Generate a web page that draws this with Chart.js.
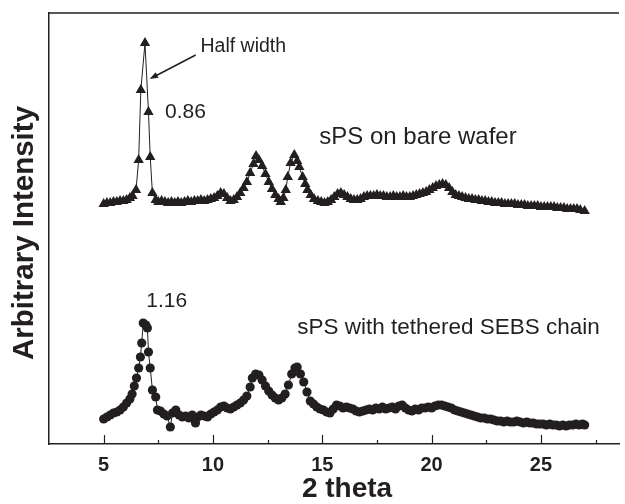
<!DOCTYPE html>
<html>
<head>
<meta charset="utf-8">
<script src="https://cdn.jsdelivr.net/npm/chart.js@4"></script>
<style>
  html, body { margin: 0; padding: 0; background: #fff; }
  #wrap { width: 625px; height: 504px; }
</style>
</head>
<body>
<div id="wrap"><canvas id="xrd"></canvas></div>
<script>
// sPS on bare wafer (triangles)
const bareX = [5.0, 5.15, 5.3, 5.45, 5.6, 5.75, 5.9, 6.05, 6.2, 6.32, 6.48, 6.6, 6.7, 6.89, 7.05, 7.13, 7.23, 7.38,
  7.5, 7.65, 7.8, 7.95, 8.1, 8.25, 8.4, 8.55, 8.7, 8.85, 9.0, 9.15, 9.3, 9.45, 9.6, 9.75, 9.9, 10.05, 10.2, 10.35,
  10.5, 10.65, 10.8, 10.95, 11.1, 11.25, 11.4, 11.55, 11.7, 11.85, 11.97, 12.1, 12.25, 12.4, 12.55, 12.7, 12.85,
  13.0, 13.1, 13.22, 13.33, 13.42, 13.55, 13.72, 13.85, 13.95, 14.1, 14.22, 14.32, 14.47, 14.62, 14.8, 14.95,
  15.1, 15.25, 15.4, 15.55, 15.7, 15.85, 16.0, 16.15, 16.3, 16.45, 16.6, 16.75, 16.9, 17.05, 17.2, 17.35, 17.5,
  17.65, 17.8, 17.95, 18.1, 18.25, 18.4, 18.55, 18.7, 18.85, 19.0, 19.15, 19.3, 19.45, 19.6, 19.75, 19.9, 20.05,
  20.2, 20.35, 20.5, 20.65, 20.8, 20.95, 21.1, 21.25, 21.4, 21.55, 21.7, 21.85, 22.0, 22.15, 22.3, 22.45, 22.6,
  22.75, 22.9, 23.05, 23.2, 23.35, 23.5, 23.65, 23.8, 23.95, 24.1, 24.25, 24.4, 24.55, 24.7, 24.85, 25.0, 25.15,
  25.3, 25.45, 25.6, 25.75, 25.9, 26.05, 26.2, 26.35, 26.5, 26.65, 26.8, 27.0];
const bareY = [240, 241, 241, 242, 242, 243, 243, 244, 246, 248, 254, 284, 354, 401, 332, 287, 251, 244,
  242, 243, 242, 241, 242, 241, 242, 241, 242, 243, 242, 243, 243, 244, 243, 244, 245, 246, 248, 251,
  250, 246, 243, 244, 247, 251, 256, 262, 271, 280, 288, 284, 278, 270, 262, 255, 249,
  245, 242, 246, 254, 267, 281, 289, 283, 277, 267, 260, 254, 249, 245, 243, 242,
  241, 242, 244, 247, 250, 251, 249, 247, 245, 244, 244, 245, 247, 248, 248, 248, 249,
  248, 248, 247, 247, 248, 247, 247, 248, 247, 247, 248, 249, 250, 251, 252, 254, 256,
  258, 259, 260, 259, 256, 252, 249, 248, 247, 246, 245, 245, 244, 244, 243, 243, 242,
  242, 241, 241, 241, 240, 240, 240, 240, 239, 239, 239, 238, 238, 238, 238, 237, 237,
  237, 237, 237, 236, 236, 236, 235, 235, 235, 235, 234, 233];

// sPS with tethered SEBS chain (circles)
const sebsX = [5.0, 5.15, 5.3, 5.45, 5.6, 5.75, 5.9, 6.05, 6.2, 6.3, 6.4, 6.5, 6.6, 6.68, 6.74, 6.81, 6.93, 7.0,
  7.05, 7.13, 7.23, 7.38, 7.46, 7.6, 7.75, 7.9, 8.05, 8.15, 8.3, 8.45, 8.6, 8.75, 8.9, 9.05, 9.2, 9.3, 9.45, 9.6,
  9.75, 9.9, 10.05, 10.2, 10.35, 10.5, 10.65, 10.8, 10.95, 11.1, 11.25, 11.4, 11.55, 11.7, 11.8, 11.95, 12.1,
  12.25, 12.4, 12.55, 12.7, 12.85, 13.0, 13.15, 13.3, 13.45, 13.6, 13.75, 13.85, 14.0, 14.15, 14.3, 14.45, 14.6,
  14.75, 14.9, 15.05, 15.2, 15.35, 15.5, 15.65, 15.8, 15.95, 16.1, 16.25, 16.4, 16.55, 16.7, 16.85, 17.0, 17.15,
  17.3, 17.45, 17.6, 17.75, 17.9, 18.05, 18.2, 18.35, 18.5, 18.65, 18.8, 18.95, 19.1, 19.25, 19.4, 19.55, 19.7,
  19.85, 20.0, 20.15, 20.3, 20.45, 20.6, 20.75, 20.9, 21.05, 21.2, 21.35, 21.5, 21.65, 21.8, 21.95, 22.1, 22.25,
  22.4, 22.55, 22.7, 22.85, 23.0, 23.15, 23.3, 23.45, 23.6, 23.75, 23.9, 24.05, 24.2, 24.35, 24.5, 24.65, 24.8,
  24.95, 25.1, 25.25, 25.4, 25.55, 25.7, 25.85, 26.0, 26.15, 26.3, 26.45, 26.6, 26.75, 26.9, 27.0];
const sebsY = [25, 27, 29, 31, 32, 34, 37, 41, 45, 50, 58, 66, 76, 87, 101, 121, 119, 116,
  92, 76, 54, 47, 34, 33, 30, 28, 17, 31, 34, 29, 27, 28, 26, 29, 21, 27, 29, 28,
  27, 30, 32, 34, 37, 38, 36, 35, 37, 39, 41, 44, 48, 57, 66, 70, 69,
  64, 58, 53, 49, 46, 44, 46, 50, 59, 70, 76, 77, 70, 62, 52, 43, 40,
  37, 35, 34, 32, 31, 35, 39, 38, 36, 37, 36, 35, 33, 32, 33, 34, 35,
  34, 36, 35, 37, 35, 36, 37, 35, 38, 39, 36, 34, 33, 35, 34, 36, 36,
  37, 36, 38, 39, 39, 38, 37, 36, 34, 33, 32, 31, 30, 29, 28, 27, 26,
  26, 25, 25, 24, 23, 23, 22, 23, 22, 22, 23, 22, 21, 22, 21, 21, 20,
  20, 20, 19, 20, 19, 19, 18, 19, 18, 19, 19, 20, 19, 20, 19];

const xMin = 2.5;
const xMax = 28.57;
const yMax = 431;
const majorTicks = [5, 10, 15, 20, 25];
const minorTicks = [7.5, 12.5, 17.5, 22.5, 27.5];

const ink = '#231f20';
const FONT = '"Liberation Sans", Arial, sans-serif';

// text labels on the plot, in data units
const notes = [
  { text: 'Half width', x: 9.43, y: 397, size: 19.5 },
  { text: '0.86', x: 7.81, y: 332, size: 21 },
  { text: 'sPS on bare wafer', x: 14.86, y: 307, size: 24 },
  { text: '1.16', x: 6.95, y: 143, size: 21 },
  { text: 'sPS with tethered SEBS chain', x: 13.85, y: 116, size: 22.5 }
];
const arrow = { from: [9.21, 389], to: [7.1, 365] };

function toPoints(xs, ys) {
  return xs.map((x, i) => ({ x, y: ys[i] }));
}

const decorations = {
  id: 'decorations',
  afterDraw(chart) {
    const { ctx, chartArea } = chart;
    const xs = chart.scales.x;
    const ys = chart.scales.y;
    ctx.save();
    ctx.strokeStyle = ink;
    ctx.fillStyle = ink;

    // top frame line
    ctx.lineWidth = 1.5;
    ctx.beginPath();
    ctx.moveTo(chartArea.left, chartArea.top);
    ctx.lineTo(chartArea.right, chartArea.top);
    ctx.stroke();

    // inward tick marks
    ctx.lineWidth = 1.2;
    majorTicks.forEach(v => {
      const px = Math.round(xs.getPixelForValue(v)) + 0.5;
      ctx.beginPath();
      ctx.moveTo(px, chartArea.bottom);
      ctx.lineTo(px, chartArea.bottom - 9);
      ctx.stroke();
    });
    minorTicks.forEach(v => {
      const px = Math.round(xs.getPixelForValue(v)) + 0.5;
      ctx.beginPath();
      ctx.moveTo(px, chartArea.bottom);
      ctx.lineTo(px, chartArea.bottom - 4);
      ctx.stroke();
    });

    // annotations
    ctx.textAlign = 'left';
    ctx.textBaseline = 'middle';
    notes.forEach(n => {
      ctx.font = `${n.size}px ${FONT}`;
      ctx.fillText(n.text, xs.getPixelForValue(n.x), ys.getPixelForValue(n.y));
    });

    // arrow pointing at the half width
    const x1 = xs.getPixelForValue(arrow.from[0]);
    const y1 = ys.getPixelForValue(arrow.from[1]);
    const x2 = xs.getPixelForValue(arrow.to[0]);
    const y2 = ys.getPixelForValue(arrow.to[1]);
    const ang = Math.atan2(y2 - y1, x2 - x1);
    ctx.lineWidth = 1.5;
    ctx.beginPath();
    ctx.moveTo(x1, y1);
    ctx.lineTo(x2 - 6 * Math.cos(ang), y2 - 6 * Math.sin(ang));
    ctx.stroke();
    ctx.beginPath();
    ctx.moveTo(x2, y2);
    ctx.lineTo(x2 - 9 * Math.cos(ang - 0.35), y2 - 9 * Math.sin(ang - 0.35));
    ctx.lineTo(x2 - 9 * Math.cos(ang + 0.35), y2 - 9 * Math.sin(ang + 0.35));
    ctx.closePath();
    ctx.fill();

    // axis titles (placed to match the original figure)
    ctx.textAlign = 'center';
    ctx.font = `bold 28px ${FONT}`;
    ctx.fillText('2 theta', 347, 489);
    ctx.translate(25, 233);
    ctx.rotate(-Math.PI / 2);
    ctx.font = `bold 29.5px ${FONT}`;
    ctx.fillText('Arbitrary Intensity', 0, 0);
    ctx.restore();
  }
};

new Chart(document.getElementById('xrd'), {
  type: 'scatter',
  data: {
    datasets: [
      {
        label: 'sPS on bare wafer',
        data: toPoints(bareX, bareY),
        showLine: true,
        borderColor: ink,
        borderWidth: 1,
        pointStyle: 'triangle',
        pointRadius: 6,
        pointBackgroundColor: ink,
        pointBorderColor: ink,
        pointBorderWidth: 0
      },
      {
        label: 'sPS with tethered SEBS chain',
        data: toPoints(sebsX, sebsY),
        showLine: true,
        borderColor: ink,
        borderWidth: 1,
        pointStyle: 'circle',
        pointRadius: 4.6,
        pointBackgroundColor: ink,
        pointBorderColor: ink,
        pointBorderWidth: 0
      }
    ]
  },
  options: {
    responsive: true,
    maintainAspectRatio: false,
    animation: false,
    layout: { padding: { top: 13, right: 0, left: 0, bottom: 0 } },
    plugins: {
      legend: { display: false },
      tooltip: { enabled: false }
    },
    scales: {
      x: {
        type: 'linear',
        min: xMin,
        max: xMax,
        afterBuildTicks: (scale) => {
          scale.ticks = majorTicks.map(v => ({ value: v }));
        },
        afterFit: (scale) => { scale.height = 60; },
        grid: { display: false, drawTicks: false },
        border: { display: true, color: ink, width: 1.5 },
        ticks: {
          color: ink,
          padding: 9,
          maxRotation: 0,
          font: { family: FONT, size: 20, weight: 'bold' }
        }
      },
      y: {
        type: 'linear',
        min: 0,
        max: yMax,
        afterFit: (scale) => { scale.width = 49; },
        grid: { display: false, drawTicks: false },
        border: { display: true, color: ink, width: 1.5 },
        ticks: { display: false }
      }
    }
  },
  plugins: [decorations]
});
</script>
</body>
</html>
